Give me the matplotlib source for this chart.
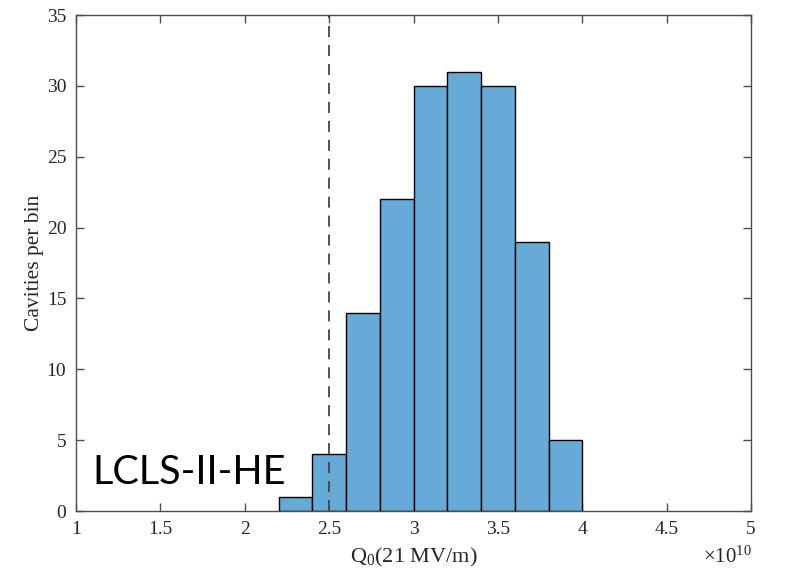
import matplotlib
matplotlib.use("Agg")
import matplotlib.pyplot as plt
import numpy as np

# Histogram data (Q0 in units of 1e10)
bin_edges = [2.2, 2.4, 2.6, 2.8, 3.0, 3.2, 3.4, 3.6, 3.8, 4.0]
counts = [1, 4, 14, 22, 30, 31, 30, 19, 5]
spec_q0 = 2.5
x_ticks = [1, 1.5, 2, 2.5, 3, 3.5, 4, 4.5, 5]
x_tick_labels = ["1", "1.5", "2", "2.5", "3", "3.5", "4", "4.5", "5"]
y_ticks = [0, 5, 10, 15, 20, 25, 30, 35]

serif = ["Liberation Serif", "DejaVu Serif"]
plt.rcParams["font.family"] = serif
plt.rcParams["mathtext.fontset"] = "custom"
plt.rcParams["mathtext.rm"] = "Liberation Serif"
plt.rcParams["mathtext.it"] = "Liberation Serif:italic"

W, H = 786, 573
fig = plt.figure(figsize=(W / 100, H / 100), dpi=100)
left, right, top, bottom = 76, 751, 15, 511
ax = fig.add_axes([left / W, 1 - bottom / H, (right - left) / W, (bottom - top) / H])

bar_color = (0.4, 0.668, 0.845)
edges = np.array(bin_edges)
ax.bar(edges[:-1], counts, width=np.diff(edges), align="edge",
       color=bar_color, edgecolor="black", linewidth=1.0, zorder=2)

ax.plot([spec_q0, spec_q0], [0, 35], linestyle=(0, (6.1, 4.4)), color="#444444",
        linewidth=1.3, zorder=3)

ax.set_xlim(1, 5)
ax.set_ylim(0, 35)
ax.set_xticks(x_ticks)
ax.set_xticklabels(x_tick_labels)
ax.set_yticks(y_ticks)

spine_col = "#4d4d4d"
for s in ax.spines.values():
    s.set_color(spine_col)
    s.set_linewidth(1.0)
ax.tick_params(direction="in", length=6, width=1.0, color=spine_col,
               labelsize=14, labelcolor="#262626",
               top=True, right=True, pad=7)

ax.set_xlabel("Q$_0$(21 MV/m)", fontsize=16, color="#262626", labelpad=6)
ax.set_ylabel("Cavities per bin", fontsize=15.5, color="#262626")
ax.yaxis.set_label_coords((44 - left) / (right - left), 0.5)

fig.text(752 / W, 1 - 557 / H, r"$\times$10$^{10}$", ha="right", va="center",
         fontsize=15, color="#262626")

fig.text(92 / W, 1 - 472 / H, "LCLS-II-HE", ha="left", va="center",
         fontsize=28.5, family=["Lato", "DejaVu Sans"], color="black")

fig.savefig("out.png", dpi=100)
